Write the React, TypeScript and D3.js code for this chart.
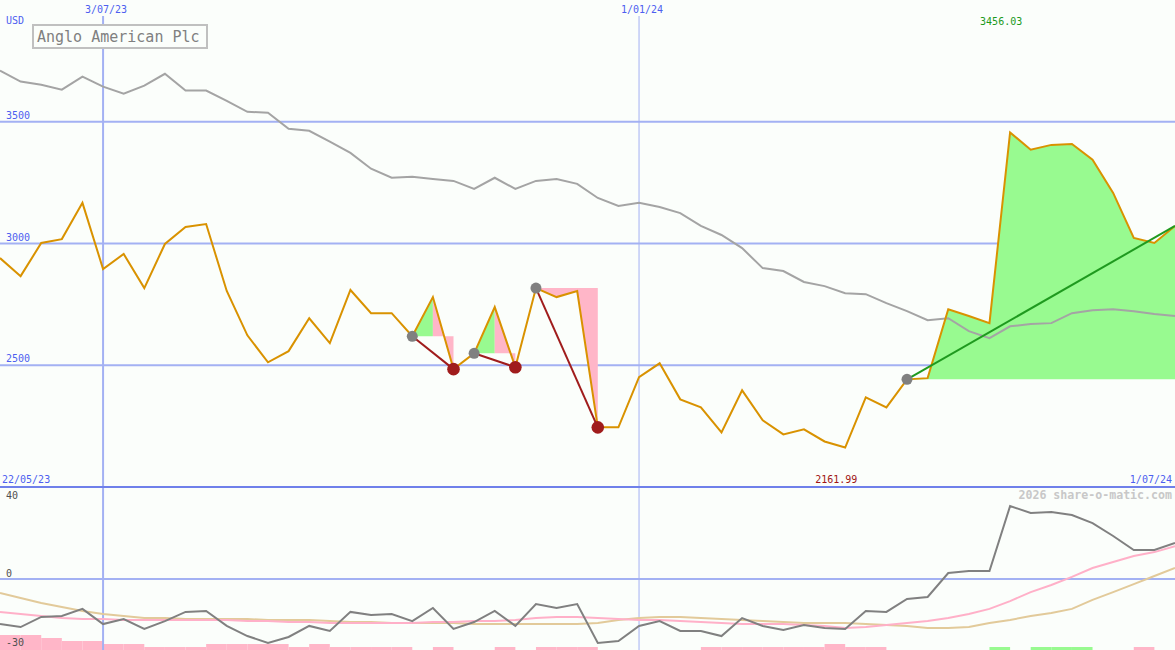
import React from 'react';
import * as d3 from 'd3';

const W = 1175;
const H = 650;

// ---- data (weekly closes, USD) ----
const closes = [
  2940, 2866, 3002, 3018, 3167, 2895, 2957, 2817, 2998, 3068,
  3080, 2805, 2623, 2512, 2558, 2693, 2591, 2809, 2714, 2714,
  2619, 2780, 2484, 2549, 2739, 2492, 2817, 2780, 2805, 2245,
  2245, 2451, 2508, 2360, 2327, 2224, 2397, 2274, 2216, 2237,
  2187, 2161.99, 2368, 2327, 2442, 2447, 2730, 2702, 2673, 3456.03,
  3385, 3405, 3409, 3344, 3208, 3023, 3002, 3072,
];
const movingAvg = [
  3710, 3665, 3652, 3632, 3685, 3644, 3615, 3648, 3697, 3628,
  3628, 3586, 3541, 3537, 3471, 3463, 3418, 3372, 3307, 3270,
  3274, 3265, 3257, 3224, 3270, 3224, 3257, 3265, 3245, 3187,
  3154, 3167, 3150, 3125, 3072, 3035, 2981, 2899, 2887, 2842,
  2825, 2796, 2792, 2755, 2722, 2685, 2693, 2640, 2611, 2660,
  2669, 2673, 2714, 2726, 2730, 2722, 2710, 2702,
];
const momentum = [
  -19.6, -20.9, -16.5, -16.1, -13.0, -19.6, -17.4, -21.7, -18.3, -14.3,
  -13.9, -20.4, -24.8, -27.8, -25.2, -20.4, -22.6, -14.3, -15.7, -15.2,
  -18.3, -12.6, -21.7, -18.7, -13.9, -20.4, -10.9, -12.6, -10.9, -27.8,
  -27.0, -20.4, -18.3, -22.6, -22.6, -24.8, -17.0, -20.4, -22.2, -20.0,
  -21.3, -21.7, -13.9, -14.3, -8.7, -7.8, 2.6, 3.5, 3.5, 31.7,
  28.7, 29.1, 27.8, 24.3, 18.7, 12.6, 12.6, 15.7,
];
const signal = [
  -14.3, -15.2, -16.1, -17.0, -17.4, -17.4, -17.8, -17.8, -17.8, -17.8,
  -17.8, -17.8, -18.3, -18.3, -18.7, -18.7, -19.1, -19.1, -19.1, -19.1,
  -19.1, -18.7, -18.7, -18.3, -18.3, -17.8, -17.0, -16.5, -16.5, -17.0,
  -17.4, -17.8, -17.8, -18.3, -18.7, -19.1, -19.6, -19.6, -19.6, -20.0,
  -20.4, -21.3, -20.9, -20.0, -19.1, -18.3, -17.0, -15.2, -13.0, -9.6,
  -5.7, -2.6, 0.9, 4.8, 7.4, 10.0, 11.7, 14.3,
];
const slowSignal = [
  -6.1, -8.3, -10.4, -12.2, -13.9, -15.2, -16.1, -17.0, -17.0, -17.4,
  -17.4, -17.4, -17.4, -17.8, -17.8, -17.8, -18.3, -18.7, -18.7, -19.1,
  -19.1, -19.1, -19.1, -19.6, -19.6, -19.6, -19.6, -19.6, -19.6, -19.1,
  -17.8, -17.0, -16.5, -16.5, -17.0, -17.4, -17.8, -18.3, -18.7, -19.1,
  -19.1, -19.1, -19.6, -20.0, -20.4, -21.3, -21.3, -20.9, -19.1, -17.8,
  -16.1, -14.8, -13.0, -9.1, -5.7, -2.2, 1.3, 4.8,
];
const histogram = [
  -5, -5, -4, -3, -3, -2, -2, -1, -1, -1,
  -2, -2, -2, -2, -1, -2, -1, -1, -1, -1,
  0, -1, 0, 0, -1, 0, -1, -1, -1, 0,
  0, 0, 0, 0, -1, -1, -1, -1, -1, -1,
  -2, -1, -1, 0, 0, 0, 0, 0, 1, 0,
  1, 1, 1, 0, 0, -1, 0,
];
const buyIdx = [20, 23, 26, 44];
const sellIdx = [22, 25, 29];
const dateTickIdx = [5, 31];
const dateTickLabels = ['3/07/23', '1/01/24'];
const startLabel = '22/05/23';
const endLabel = '1/07/24';
const priceTicks = [2500, 3000, 3500];
const lowerTicks = [40, 0, -30];
const title = 'Anglo American Plc';
const currency = 'USD';
const credit = '2026 share-o-matic.com';

// ---- styles ----
const BG = '#fbfefb';
const GRID = '#a3b1f3';
const DIVIDER = '#6f80ea';
const BLUE_TXT = '#4d5ff0';
const ORANGE = '#d99200';
const MA_GRAY = '#a4a4a4';
const PINK = '#ffb6c8';
const GREEN = '#98fa90';
const DARKRED = '#a01c1c';
const DOTGRAY = '#808080';
const FONT = '"DejaVu Sans Mono", "Liberation Mono", monospace';

export default function App() {
  const n = closes.length;
  const x = d3.scaleLinear().domain([0, n - 1]).range([0, W]);
  const yP = d3.scaleLinear().domain([2000, 4000]).range([487, 0]);
  const yL = d3.scaleLinear().domain([-30, 40]).range([648, 487]);
  const barH = d3.scaleLinear().domain([0, 1]).range([0, 3]);

  const priceLine = d3.line<number>().x((_, i) => x(i)).y((d) => yP(d));
  const lowLine = d3.line<number>().x((_, i) => x(i)).y((d) => yL(d));
  const poly = d3.line<[number, number]>();

  const fills: { d: string; color: string }[] = [];
  buyIdx.forEach((b, k) => {
    const s = sellIdx[k];
    const by = yP(closes[b]);
    if (s === undefined) {
      const pts: [number, number][] = [];
      for (let i = b; i < n; i++) pts.push([x(i), yP(closes[i])]);
      pts.push([x(n - 1), by]);
      pts.push([x(b), by]);
      fills.push({ d: poly(pts) + 'Z', color: GREEN });
      return;
    }
    let peak = b;
    for (let i = b; i <= s; i++) if (closes[i] > closes[peak]) peak = i;
    if (peak > b) {
      const g: [number, number][] = [];
      for (let i = b; i <= peak; i++) g.push([x(i), yP(closes[i])]);
      g.push([x(peak), by]);
      fills.push({ d: poly(g) + 'Z', color: GREEN });
    }
    const p: [number, number][] = [];
    for (let i = peak; i <= s; i++) p.push([x(i), yP(closes[i])]);
    p.push([x(s), by]);
    p.push([x(peak), by]);
    fills.push({ d: poly(p) + 'Z', color: PINK });
  });

  const maxI = d3.maxIndex(closes);
  const minI = d3.minIndex(closes);
  const fmt = d3.format('.2f');
  const last = n - 1;
  const openBuy = buyIdx[buyIdx.length - 1];

  return (
    <svg
      width={W}
      height={H}
      style={{ position: 'absolute', left: 0, top: 0, display: 'block', background: BG }}
    >
      <rect x={0} y={0} width={W} height={H} fill={BG} />

      {/* histogram bars */}
      {histogram.map((v, i) =>
        v === 0 ? null : (
          <rect
            key={'h' + i}
            x={x(i)}
            y={H - barH(Math.abs(v))}
            width={x(i + 1) - x(i)}
            height={barH(Math.abs(v))}
            fill={v < 0 ? PINK : GREEN}
          />
        )
      )}

      {/* horizontal grid */}
      {priceTicks.map((t) => (
        <line key={'g' + t} x1={0} x2={W} y1={yP(t)} y2={yP(t)} stroke={GRID} strokeWidth={2} />
      ))}
      <line x1={0} x2={W} y1={yL(0)} y2={yL(0)} stroke={GRID} strokeWidth={2} />

      {/* vertical date lines */}
      {dateTickIdx.map((t, k) => (
        <line
          key={'v' + t}
          x1={x(t)}
          x2={x(t)}
          y1={16}
          y2={H}
          stroke={GRID}
          strokeWidth={k === 0 ? 2 : 1}
        />
      ))}
      <line x1={0} x2={W} y1={487} y2={487} stroke={DIVIDER} strokeWidth={2} />

      {/* trade fills */}
      {fills.map((f, i) => (
        <path key={'f' + i} d={f.d} fill={f.color} stroke="none" />
      ))}

      {/* moving average */}
      <path d={priceLine(movingAvg) || ''} fill="none" stroke={MA_GRAY} strokeWidth={2} />

      {/* lower panel lines */}
      <path d={lowLine(slowSignal) || ''} fill="none" stroke="#e2ca9a" strokeWidth={2} />
      <path d={lowLine(signal) || ''} fill="none" stroke="#ffb0c8" strokeWidth={2} />
      <path d={lowLine(momentum) || ''} fill="none" stroke="#808080" strokeWidth={2} />

      {/* price */}
      <path d={priceLine(closes) || ''} fill="none" stroke={ORANGE} strokeWidth={2} />

      {/* trade lines */}
      {sellIdx.map((s, k) => (
        <line
          key={'t' + k}
          x1={x(buyIdx[k])}
          y1={yP(closes[buyIdx[k]])}
          x2={x(s)}
          y2={yP(closes[s])}
          stroke={DARKRED}
          strokeWidth={2}
        />
      ))}
      <line
        x1={x(openBuy)}
        y1={yP(closes[openBuy])}
        x2={x(last)}
        y2={yP(closes[last])}
        stroke="#1f9a1f"
        strokeWidth={2}
      />

      {/* markers */}
      {buyIdx.map((b) => (
        <circle key={'b' + b} cx={x(b)} cy={yP(closes[b])} r={5.5} fill={DOTGRAY} />
      ))}
      {sellIdx.map((s) => (
        <circle key={'s' + s} cx={x(s)} cy={yP(closes[s])} r={6.3} fill={DARKRED} />
      ))}

      {/* texts */}
      <g fontFamily={FONT} fontSize={10}>
        <text x={6} y={24} fill={BLUE_TXT}>{currency}</text>
        {priceTicks.map((t) => (
          <text key={'pt' + t} x={6} y={yP(t) - 3} fill={BLUE_TXT}>{t}</text>
        ))}
        {dateTickIdx.map((t, k) => (
          <text key={'dt' + t} x={x(t) + 3} y={13} fill={BLUE_TXT} textAnchor="middle">
            {dateTickLabels[k]}
          </text>
        ))}
        <text x={2} y={483} fill={BLUE_TXT}>{startLabel}</text>
        <text x={W - 3} y={483} fill={BLUE_TXT} textAnchor="end">{endLabel}</text>
        <text x={x(maxI) - 30} y={25} fill="#1c9a1c">{fmt(closes[maxI])}</text>
        <text x={x(minI) - 30} y={483} fill="#a01414">{fmt(closes[minI])}</text>
        {lowerTicks.map((t, k) => (
          <text key={'lt' + t} x={6} y={k === 0 ? yL(t) + 12 : yL(t) - 2} fill="#505050">
            {t}
          </text>
        ))}
      </g>
      <text
        x={W - 3}
        y={499}
        fontFamily={FONT}
        fontSize={11.6}
        fontWeight="bold"
        fill="#c8c8c8"
        textAnchor="end"
      >
        {credit}
      </text>

      {/* title box */}
      <rect x={33} y={25} width={174} height={23} fill={BG} stroke="#c0c0c0" strokeWidth={2} />
      <text x={37} y={42} fontFamily={FONT} fontSize={15} fill="#808080">
        {title}
      </text>
    </svg>
  );
}
